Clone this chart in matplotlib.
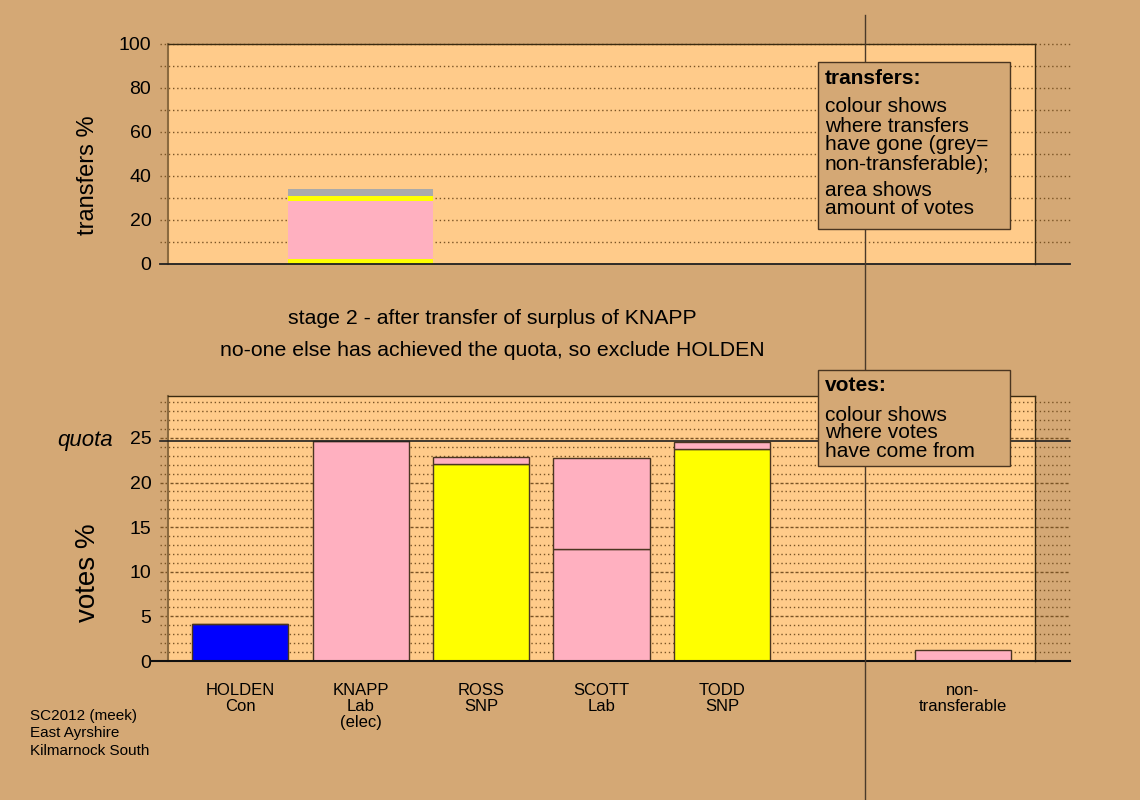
import matplotlib
matplotlib.use("Agg")
import matplotlib.pyplot as plt
from matplotlib.patches import Rectangle
from matplotlib.lines import Line2D

plt.rcParams['font.family'] = ['Liberation Sans', 'DejaVu Sans']

# ---- data -------------------------------------------------------------
candidates = ["HOLDEN\nCon", "KNAPP\nLab\n(elec)", "ROSS\nSNP", "SCOTT\nLab", "TODD\nSNP"]
nt_label = "non-\ntransferable"
party_colours = ["#0000FF", "#FFB0C0", "#FFFF00", "#FFB0C0", "#FFFF00"]

# votes % held at stage 2: own votes, plus votes received from KNAPP's surplus
own_votes = [4.15, 24.7, 22.1, 12.6, 23.8]
from_knapp = [0.0, 0.0, 0.8, 10.1, 0.75]
nontransferable = 1.2
quota = 24.7

# destination of KNAPP's surplus (% of KNAPP's votes), stacked bottom-up
transfer_parts = [2.2, 26.6, 2.2, 3.1]
transfer_colours = ["#FFFF00", "#FFB0C0", "#FFFF00", "#AAAAAA"]
transfer_from = 1          # index of KNAPP
transfer_width = 1.2

top_ticks = [0, 20, 40, 60, 80, 100]
bottom_ticks = [0, 5, 10, 15, 20, 25]

# ---- style -------------------------------------------------------------
BG = "#D4A875"
FACE = "#FFCB8A"
GRID = "#7A5425"
EDGE = "#4A3520"

W, H = 1140, 800
fig = plt.figure(figsize=(W / 100, H / 100), dpi=100, facecolor=BG)

def fx(px):
    return px / W

def fy(py):
    return 1 - py / H

ax_t = fig.add_axes([fx(168), fy(264), fx(1035) - fx(168), fy(44) - fy(264)])
ax_b = fig.add_axes([fx(168), fy(661), fx(1035) - fx(168), fy(396) - fy(661)])

positions = list(range(len(candidates)))
nt_pos = len(candidates) + 1
xlim = (-0.6, 6.6)
ext_l, ext_r = -8 / 867, (1070 - 168) / 867

dotted = (0, (1, 2))
dashed = (0, (2.2, 1.4))

for ax in (ax_t, ax_b):
    ax.set_facecolor(FACE)
    ax.set_xlim(*xlim)
    ax.tick_params(length=0, labelsize=14, pad=12)
    ax.spines['bottom'].set_visible(False)
    ax.spines['left'].set_color("#8A6A40")
    ax.spines['left'].set_linewidth(1.5)
    for s in ('top', 'right'):
        ax.spines[s].set_color("#3A2A10")
        ax.spines[s].set_linewidth(1.0)

# ---- top panel: transfers ---------------------------------------------
ax_t.set_ylim(0, 100)
ax_t.set_yticks(top_ticks)
ax_t.set_xticks([])
for v in range(10, 101, 10):
    ax_t.axhline(v, xmin=ext_l, xmax=ext_r, clip_on=False, ls=dotted,
                 lw=1, color=GRID, zorder=0.5)
ax_t.axhline(0, xmin=ext_l, xmax=ext_r, clip_on=False, lw=1.3,
             color="#202020", zorder=3)

base = 0.0
for part, col in zip(transfer_parts, transfer_colours):
    ax_t.bar(transfer_from, part, bottom=base, width=transfer_width,
             color=col, edgecolor='none', zorder=2)
    base += part

# ---- bottom panel: votes ----------------------------------------------
ax_b.set_ylim(0, 29.7)
ax_b.set_yticks(bottom_ticks)
for v in range(1, 30):
    style = dashed if v % 5 == 0 else dotted
    ax_b.axhline(v, xmin=ext_l, xmax=ext_r, clip_on=False, ls=style,
                 lw=1, color=GRID, zorder=0.5)
ax_b.axhline(quota, xmin=ext_l, xmax=ext_r, clip_on=False, lw=1.2,
             color="#202020", zorder=3)
ax_b.axhline(0, xmin=ext_l - 0.01, xmax=ext_r, clip_on=False, lw=1.5,
             color="#101010", zorder=3)

ax_b.bar(positions, own_votes, width=0.8, color=party_colours,
         edgecolor=EDGE, lw=1, zorder=2)
ax_b.bar(positions, from_knapp, bottom=own_votes, width=0.8,
         color="#FFB0C0", edgecolor=EDGE, lw=1, zorder=2)
ax_b.bar([nt_pos], [nontransferable], width=0.8, color="#FFB0C0",
         edgecolor=EDGE, lw=1, zorder=2)

ax_b.set_xticks(positions + [nt_pos], candidates + [nt_label])
ax_b.tick_params(axis='x', labelsize=12, pad=15.5)
for lbl in ax_b.get_xticklabels():
    lbl.set_linespacing(1.12)
    lbl.set_verticalalignment('top')

# ---- figure furniture ---------------------------------------------------
fig.add_artist(Line2D([fx(865), fx(865)], [0, fy(15)], lw=1,
                      color="#4A3A2A", zorder=0.8))

fig.text(fx(88), fy(175), "transfers %", rotation=90, ha='center',
         va='center', fontsize=17)
fig.text(fx(88), fy(573), "votes %", rotation=90, ha='center',
         va='center', fontsize=20)
fig.text(fx(113), fy(440), "quota", ha='right', va='center',
         fontsize=16, style='italic')

fig.text(fx(492), fy(318), "stage 2 - after transfer of surplus of KNAPP",
         ha='center', va='center', fontsize=15.3)
fig.text(fx(492), fy(351),
         "no-one else has achieved the quota, so exclude HOLDEN",
         ha='center', va='center', fontsize=15.3)

fig.text(fx(30), fy(709), "SC2012 (meek)\nEast Ayrshire\nKilmarnock South",
         ha='left', va='top', fontsize=11, linespacing=1.3)

# explanation boxes
fig.add_artist(Rectangle((fx(818), fy(229)), fx(1010) - fx(818),
                         fy(62) - fy(229), transform=fig.transFigure,
                         facecolor=BG, edgecolor=EDGE, lw=1, zorder=1))
fig.add_artist(Rectangle((fx(818), fy(466)), fx(1010) - fx(818),
                         fy(370) - fy(466), transform=fig.transFigure,
                         facecolor=BG, edgecolor=EDGE, lw=1, zorder=1))

box_lines = [
    ("transfers:", 78, True),
    ("colour shows", 107, False),
    ("where transfers", 126, False),
    ("have gone (grey=", 145, False),
    ("non-transferable);", 164, False),
    ("area shows", 190, False),
    ("amount of votes", 209, False),
    ("votes:", 386, True),
    ("colour shows", 415, False),
    ("where votes", 433, False),
    ("have come from", 452, False),
]
for txt, ypx, bold in box_lines:
    fig.text(fx(825), fy(ypx), txt, ha='left', va='center', fontsize=15,
             fontweight='bold' if bold else 'normal', zorder=4)

fig.savefig("out.png", dpi=100, facecolor=BG)
